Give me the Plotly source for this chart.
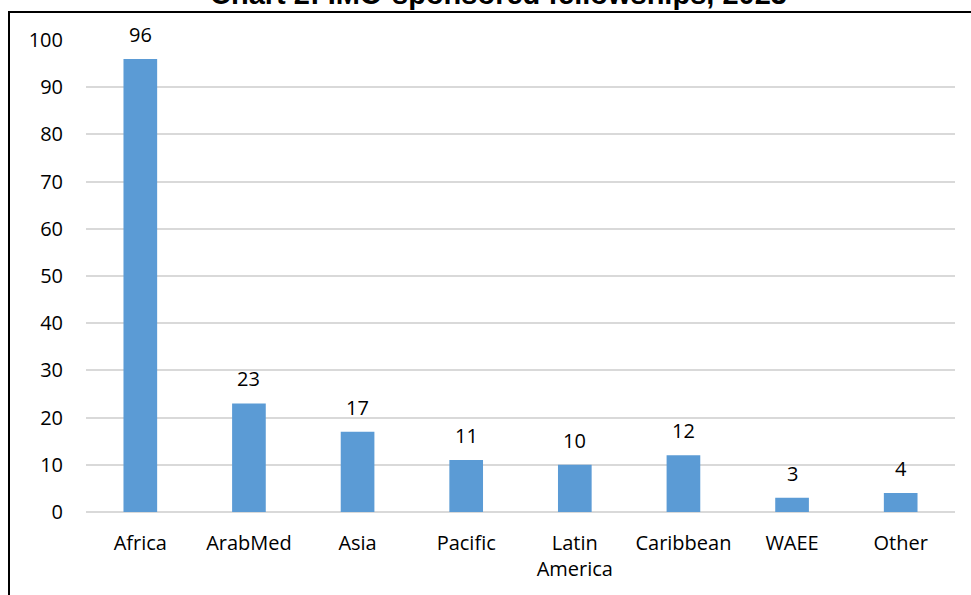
import plotly.graph_objects as go

categories = ["Africa", "ArabMed", "Asia", "Pacific", "Latin<br>America", "Caribbean", "WAEE", "Other"]
values = [96, 23, 17, 11, 10, 12, 3, 4]
y_ticks = [0, 10, 20, 30, 40, 50, 60, 70, 80, 90, 100]
title_text = "Chart 2: IMO-sponsored fellowships, 2023"

W, H = 971, 595
ml, mr, mt, mb = 86, 16, 40, 83
FONT = "Open Sans, Noto Sans, sans-serif"

fig = go.Figure()
fig.add_trace(go.Bar(
    x=categories, y=values,
    marker=dict(color="#5B9BD5", line=dict(width=0)),
    hoverinfo="skip",
))

for c, v in zip(categories, values):
    fig.add_annotation(x=c, y=v, text=str(v), showarrow=False,
                       yanchor="bottom", yshift=9,
                       font=dict(family=FONT, size=20, color="#000000"))

pw = W - ml - mr
ph = H - mt - mb
def px_x(p):
    return (p - ml) / pw
def px_y(p):
    return 1 - (p - mt) / ph

# title (top part cut off by the canvas edge, as in the reference)
fig.add_annotation(xref="paper", yref="paper", x=px_x(498), y=px_y(12),
                   xanchor="center", yanchor="bottom", showarrow=False,
                   text="<b>" + title_text + "</b>",
                   font=dict(family="Liberation Sans, Arial, sans-serif", size=29, color="#000000"))

# outer frame (partially visible)
fig.add_shape(type="rect", xref="paper", yref="paper",
              x0=px_x(9), x1=px_x(W + 20), y0=px_y(H + 20), y1=px_y(12),
              line=dict(color="#000000", width=2), fillcolor="rgba(0,0,0,0)", layer="above")

fig.update_layout(
    width=W, height=H,
    margin=dict(l=ml, r=mr, t=mt, b=mb, pad=0),
    paper_bgcolor="white", plot_bgcolor="white",
    showlegend=False,
    bargap=0.69,
    xaxis=dict(showline=False, showgrid=False, ticks="", ticklabelstandoff=17,
               tickfont=dict(family=FONT, size=20, color="#000000")),
    yaxis=dict(range=[0, 100], tickvals=y_ticks, showline=False, showgrid=True,
               gridcolor="#D9D9D9", gridwidth=1.5, zeroline=True, zerolinecolor="#D9D9D9",
               zerolinewidth=1.5, ticks="", ticklabelstandoff=22,
               tickfont=dict(family=FONT, size=20, color="#000000")),
)

fig.write_html("out.html", config={"displayModeBar": False},
               post_script="document.body.style.margin='0';document.body.style.overflow='hidden';")
